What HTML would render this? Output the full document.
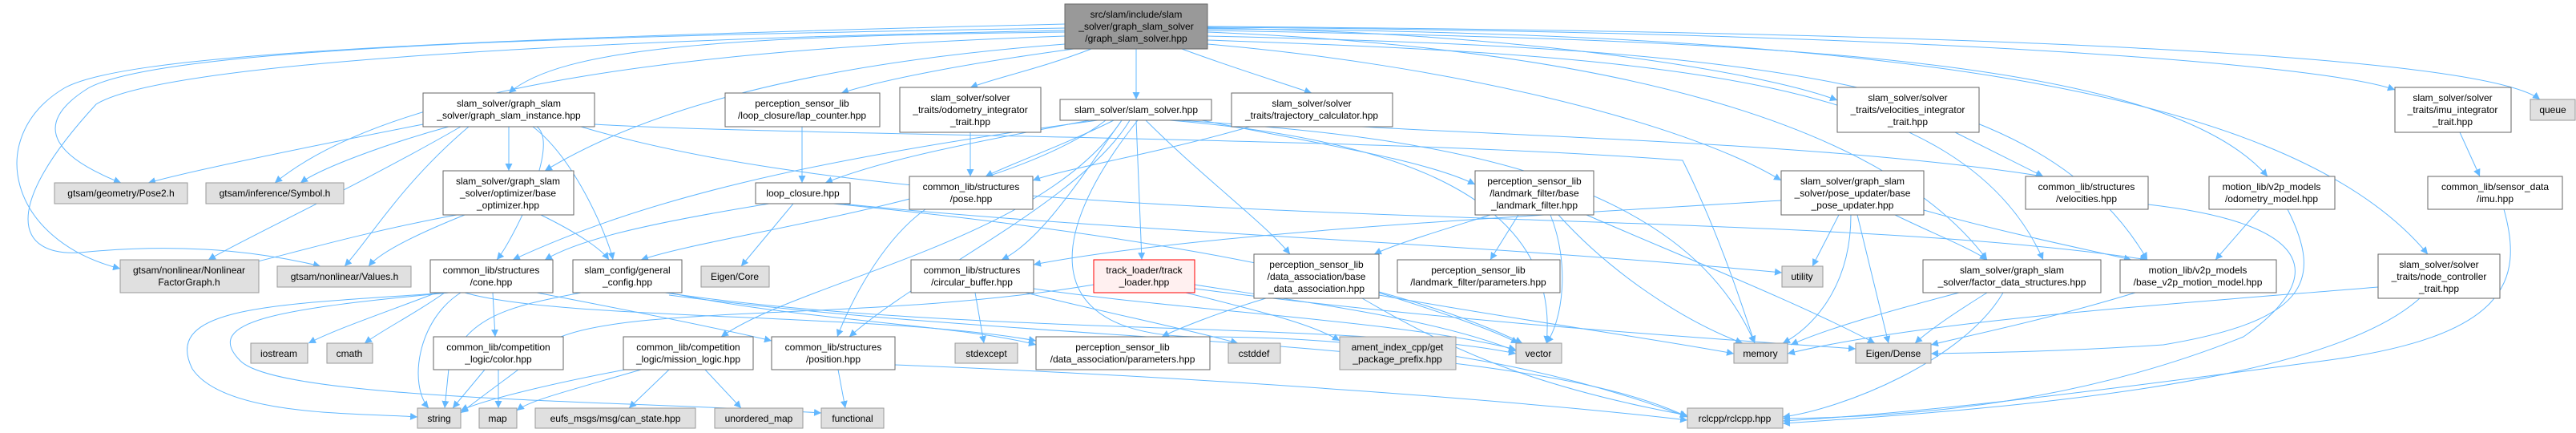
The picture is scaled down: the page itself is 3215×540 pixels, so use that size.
<!DOCTYPE html>
<html><head><meta charset="utf-8"><style>
html,body{margin:0;padding:0;background:#fff;}
svg{display:block;}
text{font-family:"Liberation Sans",Helvetica,Arial,sans-serif;font-size:12px;fill:#000;}
.n{fill:#fff;stroke:#666;stroke-width:1;}
.g{fill:#e0e0e0;stroke:#999;stroke-width:1;}
.e{fill:none;stroke:#63b8ff;stroke-width:1;}
</style></head><body>
<svg width="3215" height="540" viewBox="0 0 3215 540" xmlns="http://www.w3.org/2000/svg">
<defs><marker id="a" viewBox="0 0 10 10" refX="10" refY="5" markerWidth="9" markerHeight="9" orient="auto" markerUnits="userSpaceOnUse"><path d="M0,0 L10,5 L0,10 z" fill="#63b8ff"/></marker></defs>
<g class="e" marker-end="url(#a)">
<!-- from top -->
<path d="M1329,40 C900,45 700,60 635,116"/>
<path d="M1329,35 C700,45 200,60 110,110 C30,160 80,200 151,228"/>
<path d="M1329,45 C900,60 500,100 343,228"/>
<path d="M1329,30 C500,50 150,70 80,110 C-20,170 10,300 150,335"/>
<path d="M1329,38 C700,50 200,80 120,130 C0,260 20,320 100,315 C250,300 350,320 400,332"/>
<path d="M1329,55 C1000,80 800,140 680,213"/>
<path d="M1340,61 C1200,80 1100,100 1050,116"/>
<path d="M1362,61 C1300,85 1250,95 1211,109"/>
<path d="M1418,61 L1418,124"/>
<path d="M1475,61 C1540,85 1590,100 1637,116"/>
<path d="M1507,35 C1900,40 2200,90 2293,125"/>
<path d="M1507,55 C1800,80 2100,150 2223,225"/>
<path d="M1507,40 C2000,60 2350,150 2480,324"/>
<path d="M1507,45 C2200,60 2550,100 2680,324"/>
<path d="M1507,38 C2200,50 2700,70 2830,220"/>
<path d="M1507,36 C2300,40 2850,100 3030,317"/>
<path d="M1507,34 C2400,40 2900,80 2989,112"/>
<path d="M1507,33 C2500,40 3100,70 3170,124"/>
<path d="M1507,50 C2100,70 2450,100 2550,324"/>
<!-- graph slam instance -->
<path d="M528,155 C400,180 250,210 185,228"/>
<path d="M560,158 C480,180 400,210 375,228"/>
<path d="M575,158 C450,230 300,300 260,324"/>
<path d="M585,158 C500,230 460,300 430,332"/>
<path d="M635,158 L635,213"/>
<path d="M665,158 C720,200 760,300 765,324"/>
<path d="M670,158 C700,180 640,300 620,324"/>
<path d="M742,155 C1000,170 1700,170 2100,200 C2150,300 2180,400 2190,428"/>
<path d="M725,158 C1200,300 2200,250 2680,324"/>
<!-- lap counter -->
<path d="M1001,158 L1001,228"/>
<path d="M1211,165 L1211,220"/>
<!-- slam_solver -->
<path d="M1390,150 C1330,180 1260,205 1230,220"/>
<path d="M1360,150 C1200,180 1100,200 1030,228"/>
<path d="M1400,150 C1350,220 1300,300 1250,324"/>
<path d="M1418,150 L1425,324"/>
<path d="M1430,150 C1500,220 1580,280 1610,317"/>
<path d="M1500,150 C1650,180 1780,200 1841,230"/>
<path d="M1380,150 C1250,250 900,290 800,324"/>
<path d="M1370,150 C1000,200 800,250 640,324"/>
<path d="M1400,150 C1300,300 1000,350 900,420"/>
<path d="M1410,150 C1350,250 1150,340 1060,420"/>
<path d="M1460,150 C1700,170 1950,230 1930,428"/>
<path d="M1470,150 C1800,170 2100,220 2190,428"/>
<path d="M1420,150 C1300,300 1300,420 1500,420 C1800,420 2000,480 2106,520"/>
<!-- trajectory -->
<path d="M1560,158 C1450,190 1330,210 1289,225"/>
<path d="M1700,158 C1900,170 2300,180 2550,220"/>
<!-- velocities integrator -->
<path d="M2440,165 C2480,185 2520,205 2550,220"/>
<path d="M3070,165 L3095,220"/>
<!-- base optimizer -->
<path d="M570,268 C450,290 350,320 305,330"/>
<path d="M580,268 C500,300 470,320 460,332"/>
<path d="M675,268 C720,290 750,310 760,324"/>
<!-- loop closure -->
<path d="M960,254 C800,280 720,300 680,324"/>
<path d="M990,254 C960,290 935,320 925,332"/>
<path d="M1050,254 C1400,290 1800,300 2224,340"/>
<path d="M1040,254 C1300,280 1700,330 1900,428"/>
<!-- pose -->
<path d="M1155,261 C1100,300 1060,380 1045,420"/>
<!-- base landmark filter -->
<path d="M1860,268 C1790,290 1740,305 1715,317"/>
<path d="M1895,268 L1860,324"/>
<path d="M1935,268 C1960,330 1950,400 1930,428"/>
<path d="M1945,268 C2010,340 2100,400 2175,428"/>
<path d="M1980,268 C2100,320 2250,380 2340,428"/>
<!-- base pose updater -->
<path d="M2295,268 L2262,332"/>
<path d="M2310,268 C2310,360 2260,410 2225,428"/>
<path d="M2318,268 L2357,428"/>
<path d="M2365,268 C2410,290 2460,310 2480,324"/>
<path d="M2401,262 C2500,290 2600,310 2660,324"/>
<path d="M2223,250 C1900,270 1500,290 1290,330"/>
<!-- velocities, odometry, imu -->
<path d="M2681,255 C2900,280 2900,350 2800,420 C2600,500 2400,520 2225,522"/>
<path d="M2820,261 L2765,324"/>
<path d="M2855,261 C2900,350 2880,400 2700,430 C2550,440 2450,440 2410,441"/>
<path d="M3125,261 C3150,350 3130,420 2900,450 C2600,490 2400,515 2225,525"/>
<!-- nc -->
<path d="M2968,358 C2700,380 2400,400 2231,441"/>
<path d="M3020,372 C2900,480 2500,510 2225,528"/>
<!-- fds -->
<path d="M2445,365 C2350,390 2280,410 2235,430"/>
<path d="M2480,365 C2440,390 2410,410 2390,428"/>
<path d="M2500,365 C2450,450 2300,510 2225,520"/>
<path d="M2665,365 C2550,400 2450,420 2410,430"/>
<!-- cone -->
<path d="M560,365 C350,380 200,380 240,460 C280,520 450,515 521,520"/>
<path d="M560,365 C350,385 250,400 300,450 C350,500 800,500 1025,515"/>
<path d="M545,365 C480,390 420,410 385,428"/>
<path d="M555,365 C520,390 480,410 455,428"/>
<path d="M615,365 L618,420"/>
<path d="M670,365 C800,390 900,410 963,425"/>
<path d="M575,365 C520,400 510,480 535,509"/>
<path d="M580,365 C700,400 1100,390 1293,425"/>
<!-- general config -->
<path d="M725,365 C650,380 580,390 560,460 L555,509"/>
<path d="M835,365 C1000,400 1200,405 1293,430"/>
<path d="M830,365 C1200,420 1700,400 1892,441"/>
<path d="M835,368 C1300,430 1900,420 2106,520"/>
<!-- circular buffer -->
<path d="M1217,365 L1228,428"/>
<path d="M1280,365 C1380,390 1480,410 1545,428"/>
<path d="M1290,360 C1500,390 1750,400 1892,436"/>
<!-- track loader -->
<path d="M1365,355 C1100,400 800,380 700,420 C650,460 620,480 575,515"/>
<path d="M1480,365 C1580,390 1640,405 1672,425"/>
<path d="M1491,355 C1650,380 1800,400 1892,438"/>
<path d="M1491,360 C1800,400 2100,420 2316,435"/>
<!-- data association base -->
<path d="M1580,372 C1520,390 1470,410 1450,420"/>
<path d="M1721,365 C1800,390 1860,410 1895,428"/>
<path d="M1721,368 C1900,400 2050,420 2164,441"/>
<path d="M1700,372 C1800,430 1900,480 2106,518"/>
<!-- color, mission logic, position -->
<path d="M605,461 L565,509"/>
<path d="M622,461 L622,509"/>
<path d="M780,461 C680,480 600,500 575,512"/>
<path d="M800,461 C700,490 660,500 645,512"/>
<path d="M835,461 L785,509"/>
<path d="M880,461 L925,509"/>
<path d="M1046,461 L1055,509"/>
<path d="M1117,455 C1500,470 1900,500 2106,524"/>
</g>
<!-- nodes -->
<g>
<rect class="g" x="1329" y="5" width="178" height="56" style="fill:#999;stroke:#666"/>
<text x="1418" y="22" text-anchor="middle"><tspan x="1418">src/slam/include/slam</tspan><tspan x="1418" dy="15">_solver/graph_slam_solver</tspan><tspan x="1418" dy="15">/graph_slam_solver.hpp</tspan></text>

<rect class="n" x="528" y="116" width="214" height="42"/>
<text text-anchor="middle" y="133"><tspan x="635">slam_solver/graph_slam</tspan><tspan x="635" dy="15">_solver/graph_slam_instance.hpp</tspan></text>
<rect class="n" x="905" y="116" width="193" height="42"/>
<text text-anchor="middle" y="133"><tspan x="1001">perception_sensor_lib</tspan><tspan x="1001" dy="15">/loop_closure/lap_counter.hpp</tspan></text>
<rect class="n" x="1123" y="109" width="176" height="56"/>
<text text-anchor="middle" y="126"><tspan x="1211">slam_solver/solver</tspan><tspan x="1211" dy="15">_traits/odometry_integrator</tspan><tspan x="1211" dy="15">_trait.hpp</tspan></text>
<rect class="n" x="1323" y="124" width="189" height="26"/>
<text text-anchor="middle" x="1418" y="141">slam_solver/slam_solver.hpp</text>
<rect class="n" x="1537" y="116" width="201" height="42"/>
<text text-anchor="middle" y="133"><tspan x="1637">slam_solver/solver</tspan><tspan x="1637" dy="15">_traits/trajectory_calculator.hpp</tspan></text>
<rect class="n" x="2293" y="109" width="177" height="56"/>
<text text-anchor="middle" y="126"><tspan x="2381">slam_solver/solver</tspan><tspan x="2381" dy="15">_traits/velocities_integrator</tspan><tspan x="2381" dy="15">_trait.hpp</tspan></text>
<rect class="n" x="2989" y="109" width="145" height="56"/>
<text text-anchor="middle" y="126"><tspan x="3061">slam_solver/solver</tspan><tspan x="3061" dy="15">_traits/imu_integrator</tspan><tspan x="3061" dy="15">_trait.hpp</tspan></text>
<rect class="g" x="3158" y="124" width="56" height="26"/>
<text text-anchor="middle" x="3186" y="141">queue</text>

<rect class="g" x="68" y="228" width="166" height="26"/>
<text text-anchor="middle" x="151" y="245">gtsam/geometry/Pose2.h</text>
<rect class="g" x="257" y="228" width="172" height="26"/>
<text text-anchor="middle" x="343" y="245">gtsam/inference/Symbol.h</text>
<rect class="n" x="553" y="213" width="163" height="55"/>
<text text-anchor="middle" y="230"><tspan x="634">slam_solver/graph_slam</tspan><tspan x="634" dy="15">_solver/optimizer/base</tspan><tspan x="634" dy="15">_optimizer.hpp</tspan></text>
<rect class="n" x="943" y="228" width="118" height="26"/>
<text text-anchor="middle" x="1002" y="245">loop_closure.hpp</text>
<rect class="n" x="1135" y="220" width="154" height="41"/>
<text text-anchor="middle" y="237"><tspan x="1212">common_lib/structures</tspan><tspan x="1212" dy="15">/pose.hpp</tspan></text>
<rect class="n" x="1841" y="213" width="148" height="55"/>
<text text-anchor="middle" y="230"><tspan x="1915">perception_sensor_lib</tspan><tspan x="1915" dy="15">/landmark_filter/base</tspan><tspan x="1915" dy="15">_landmark_filter.hpp</tspan></text>
<rect class="n" x="2223" y="213" width="178" height="55"/>
<text text-anchor="middle" y="230"><tspan x="2312">slam_solver/graph_slam</tspan><tspan x="2312" dy="15">_solver/pose_updater/base</tspan><tspan x="2312" dy="15">_pose_updater.hpp</tspan></text>
<rect class="n" x="2528" y="220" width="153" height="41"/>
<text text-anchor="middle" y="237"><tspan x="2604">common_lib/structures</tspan><tspan x="2604" dy="15">/velocities.hpp</tspan></text>
<rect class="n" x="2757" y="220" width="157" height="41"/>
<text text-anchor="middle" y="237"><tspan x="2835">motion_lib/v2p_models</tspan><tspan x="2835" dy="15">/odometry_model.hpp</tspan></text>
<rect class="n" x="3030" y="220" width="168" height="41"/>
<text text-anchor="middle" y="237"><tspan x="3114">common_lib/sensor_data</tspan><tspan x="3114" dy="15">/imu.hpp</tspan></text>

<rect class="g" x="150" y="324" width="173" height="41"/>
<text text-anchor="middle" y="341"><tspan x="236">gtsam/nonlinear/Nonlinear</tspan><tspan x="236" dy="15">FactorGraph.h</tspan></text>
<rect class="g" x="346" y="332" width="167" height="26"/>
<text text-anchor="middle" x="430" y="349">gtsam/nonlinear/Values.h</text>
<rect class="n" x="537" y="324" width="153" height="41"/>
<text text-anchor="middle" y="341"><tspan x="613">common_lib/structures</tspan><tspan x="613" dy="15">/cone.hpp</tspan></text>
<rect class="n" x="715" y="324" width="136" height="41"/>
<text text-anchor="middle" y="341"><tspan x="783">slam_config/general</tspan><tspan x="783" dy="15">_config.hpp</tspan></text>
<rect class="g" x="875" y="332" width="85" height="26"/>
<text text-anchor="middle" x="917" y="349">Eigen/Core</text>
<rect class="n" x="1137" y="324" width="153" height="41"/>
<text text-anchor="middle" y="341"><tspan x="1213">common_lib/structures</tspan><tspan x="1213" dy="15">/circular_buffer.hpp</tspan></text>
<rect x="1365" y="324" width="126" height="41" style="fill:#fff0f0;stroke:#f00;stroke-width:1"/>
<text text-anchor="middle" y="341"><tspan x="1428">track_loader/track</tspan><tspan x="1428" dy="15">_loader.hpp</tspan></text>
<rect class="n" x="1565" y="317" width="156" height="55"/>
<text text-anchor="middle" y="334"><tspan x="1643">perception_sensor_lib</tspan><tspan x="1643" dy="15">/data_association/base</tspan><tspan x="1643" dy="15">_data_association.hpp</tspan></text>
<rect class="n" x="1744" y="324" width="203" height="41"/>
<text text-anchor="middle" y="341"><tspan x="1845">perception_sensor_lib</tspan><tspan x="1845" dy="15">/landmark_filter/parameters.hpp</tspan></text>
<rect class="g" x="2224" y="332" width="51" height="26"/>
<text text-anchor="middle" x="2249" y="349">utility</text>
<rect class="n" x="2400" y="324" width="222" height="41"/>
<text text-anchor="middle" y="341"><tspan x="2511">slam_solver/graph_slam</tspan><tspan x="2511" dy="15">_solver/factor_data_structures.hpp</tspan></text>
<rect class="n" x="2646" y="324" width="195" height="41"/>
<text text-anchor="middle" y="341"><tspan x="2743">motion_lib/v2p_models</tspan><tspan x="2743" dy="15">/base_v2p_motion_model.hpp</tspan></text>
<rect class="n" x="2968" y="317" width="152" height="55"/>
<text text-anchor="middle" y="334"><tspan x="3044">slam_solver/solver</tspan><tspan x="3044" dy="15">_traits/node_controller</tspan><tspan x="3044" dy="15">_trait.hpp</tspan></text>

<rect class="g" x="313" y="428" width="71" height="25"/>
<text text-anchor="middle" x="348" y="445">iostream</text>
<rect class="g" x="408" y="428" width="57" height="25"/>
<text text-anchor="middle" x="436" y="445">cmath</text>
<rect class="n" x="541" y="420" width="162" height="41"/>
<text text-anchor="middle" y="437"><tspan x="622">common_lib/competition</tspan><tspan x="622" dy="15">_logic/color.hpp</tspan></text>
<rect class="n" x="778" y="420" width="162" height="41"/>
<text text-anchor="middle" y="437"><tspan x="859">common_lib/competition</tspan><tspan x="859" dy="15">_logic/mission_logic.hpp</tspan></text>
<rect class="n" x="963" y="420" width="154" height="41"/>
<text text-anchor="middle" y="437"><tspan x="1040">common_lib/structures</tspan><tspan x="1040" dy="15">/position.hpp</tspan></text>
<rect class="g" x="1192" y="428" width="78" height="25"/>
<text text-anchor="middle" x="1231" y="445">stdexcept</text>
<rect class="n" x="1293" y="420" width="217" height="41"/>
<text text-anchor="middle" y="437"><tspan x="1401">perception_sensor_lib</tspan><tspan x="1401" dy="15">/data_association/parameters.hpp</tspan></text>
<rect class="g" x="1533" y="428" width="65" height="25"/>
<text text-anchor="middle" x="1565" y="445">cstddef</text>
<rect class="g" x="1672" y="420" width="145" height="41"/>
<text text-anchor="middle" y="437"><tspan x="1744">ament_index_cpp/get</tspan><tspan x="1744" dy="15">_package_prefix.hpp</tspan></text>
<rect class="g" x="1892" y="428" width="57" height="25"/>
<text text-anchor="middle" x="1920" y="445">vector</text>
<rect class="g" x="2164" y="428" width="67" height="25"/>
<text text-anchor="middle" x="2197" y="445">memory</text>
<rect class="g" x="2316" y="428" width="94" height="25"/>
<text text-anchor="middle" x="2363" y="445">Eigen/Dense</text>

<rect class="g" x="521" y="509" width="54" height="25"/>
<text text-anchor="middle" x="548" y="526">string</text>
<rect class="g" x="598" y="509" width="47" height="25"/>
<text text-anchor="middle" x="621" y="526">map</text>
<rect class="g" x="668" y="509" width="200" height="25"/>
<text text-anchor="middle" x="768" y="526">eufs_msgs/msg/can_state.hpp</text>
<rect class="g" x="892" y="509" width="110" height="25"/>
<text text-anchor="middle" x="947" y="526">unordered_map</text>
<rect class="g" x="1025" y="509" width="78" height="25"/>
<text text-anchor="middle" x="1064" y="526">functional</text>
<rect class="g" x="2106" y="509" width="119" height="25"/>
<text text-anchor="middle" x="2165" y="526">rclcpp/rclcpp.hpp</text>
</g>
</svg>
</body></html>
